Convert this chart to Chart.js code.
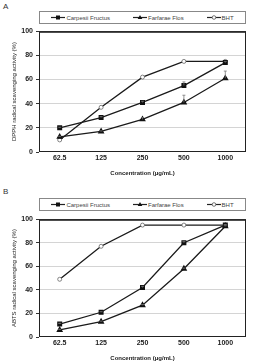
<!DOCTYPE html>
<html>
<head>
<meta charset="utf-8">
<script src="https://cdn.jsdelivr.net/npm/chart.js@4.4.1/dist/chart.umd.min.js"></script>
<style>
  body { margin: 0; background: #fff; font-family: "Liberation Sans", Arial, sans-serif; }
  #wrap { position: relative; width: 257px; height: 361px; overflow: hidden; }
  .panel { position: absolute; left: 3px; font-size: 8px; color: #333; }
  .legend { position: absolute; left: 39px; width: 205px; height: 11px; border: 1px solid #888;
    display: flex; justify-content: space-around; align-items: center; font-size: 6px; color: #444; }
  .legend span { display: flex; align-items: center; }
  .legend svg { margin-right: 1px; }
  canvas { position: absolute; left: 0; }
</style>
</head>
<body>
<div id="wrap">
  <div class="panel" style="top:2px">A</div>
  <div class="legend" id="legA" style="top:11px"></div>
  <canvas id="chartA" width="257" height="156" style="top:24px"></canvas>
  <div class="panel" style="top:187px">B</div>
  <div class="legend" id="legB" style="top:198px"></div>
  <canvas id="chartB" width="257" height="153" style="top:212px"></canvas>
</div>
<script>
// ---------- Data ----------
const CONCENTRATIONS = ['62.5', '125', '250', '500', '1000'];
const SERIES_NAMES = ['Carpesii Fructus', 'Farfarae Flos', 'BHT'];
const Y_TICKS = [0, 20, 40, 60, 80, 100];

// DPPH (panel A)
const DPPH_CARPESII = [20, 28.5, 41, 55, 74];
const DPPH_FARFARAE = [12.5, 17, 27, 41, 61];
const DPPH_BHT = [10, 37, 62, 75, 75];
const DPPH_CARPESII_ERR = [0.5, 0.8, 1, 3, 1];
const DPPH_FARFARAE_ERR = [0.5, 0.5, 1.5, 6, 6];
const DPPH_BHT_ERR = [0, 0, 0, 0, 0];

// ABTS (panel B)
const ABTS_CARPESII = [11, 21, 42, 80, 95];
const ABTS_FARFARAE = [6, 13, 27, 58, 94];
const ABTS_BHT = [49, 77, 95, 95, 95];
const ABTS_CARPESII_ERR = [0.5, 0.5, 1, 1, 0.5];
const ABTS_FARFARAE_ERR = [0.5, 0.5, 0.5, 0.5, 0.5];
const ABTS_BHT_ERR = [0, 0, 0, 0, 0];

const FONT = '"Liberation Sans", Arial, sans-serif';
const LINE = '#1a1a1a';

// ---------- Legend (html) ----------
function iconSvg(kind) {
    let mark = '';
    if (kind === 0) mark = '<rect x="5" y="1.5" width="4" height="4" fill="#111"/>';
    if (kind === 1) mark = '<polygon points="7,1 9.3,5 4.7,5" fill="#111"/>';
    if (kind === 2) mark = '<circle cx="7" cy="3.5" r="1.8" fill="#fff" stroke="#555" stroke-width="0.8"/>';
    return `<svg width="14" height="7"><line x1="0" y1="3.5" x2="14" y2="3.5" stroke="#222" stroke-width="1.2"/>${mark}</svg>`;
}
function buildLegend(id) {
    const el = document.getElementById(id);
    SERIES_NAMES.forEach((n, i) => {
        const s = document.createElement('span');
        s.innerHTML = iconSvg(i) + n;
        el.appendChild(s);
    });
}
buildLegend('legA');
buildLegend('legB');

// ---------- Plugins ----------
const boxPlugin = {
    id: 'box',
    afterDraw(chart) {
        const { ctx, chartArea: a } = chart;
        ctx.save();
        ctx.strokeStyle = '#222';
        ctx.lineWidth = 1;
        ctx.strokeRect(a.left + 0.5, a.top + 0.5, a.right - a.left - 1, a.bottom - a.top - 1);
        ctx.lineWidth = 1.5;
        ctx.beginPath();
        ctx.moveTo(a.left, a.top + 0.75);
        ctx.lineTo(a.right, a.top + 0.75);
        ctx.stroke();
        ctx.restore();
    }
};

const errorBarPlugin = {
    id: 'errBars',
    afterDatasetsDraw(chart) {
        const { ctx } = chart;
        const y = chart.scales.y;
        ctx.save();
        ctx.strokeStyle = '#777';
        ctx.lineWidth = 0.8;
        chart.data.datasets.forEach((ds, di) => {
            const meta = chart.getDatasetMeta(di);
            (ds.errors || []).forEach((e, i) => {
                if (!e) return;
                const pt = meta.data[i];
                const top = y.getPixelForValue(ds.data[i] + e);
                ctx.beginPath();
                ctx.moveTo(pt.x, pt.y);
                ctx.lineTo(pt.x, top);
                ctx.moveTo(pt.x - 1.5, top);
                ctx.lineTo(pt.x + 1.5, top);
                ctx.stroke();
            });
        });
        ctx.restore();
    }
};

// ---------- Chart builder ----------
function makeChart(id, yTitle, series, errors) {
    const styles = [
        { pointStyle: 'rect', pointRadius: 2.6, pointBackgroundColor: '#111', pointBorderColor: '#111' },
        { pointStyle: 'triangle', pointRadius: 2.6, pointBackgroundColor: '#111', pointBorderColor: '#111' },
        { pointStyle: 'circle', pointRadius: 2, pointBackgroundColor: '#fff', pointBorderColor: '#666', pointBorderWidth: 0.8 }
    ];
    const datasets = series.map((d, i) => Object.assign({
        label: SERIES_NAMES[i], data: d, errors: errors[i],
        borderColor: LINE, borderWidth: 1.3, tension: 0
    }, styles[i]));
    return new Chart(document.getElementById(id), {
        type: 'line',
        data: { labels: CONCENTRATIONS, datasets },
        options: {
            responsive: false, animation: false, devicePixelRatio: 1,
            layout: { padding: { left: 0, right: 11, top: 4, bottom: 0 } },
            plugins: { legend: { display: false }, tooltip: { enabled: false } },
            scales: {
                x: {
                    offset: true,
                    grid: { display: false, drawTicks: false, tickLength: 0 },
                    border: { display: false },
                    ticks: { color: '#222', font: { family: FONT, size: 7, weight: 'bold' }, padding: 2, maxRotation: 0 },
                    title: { display: true, text: 'Concentration (μg/mL)', color: '#222',
                        font: { family: FONT, size: 6, weight: 'bold' }, padding: { top: 4, bottom: 3 } },
                    afterFit: s => { s.height = 28; }
                },
                y: {
                    min: 0, max: 100,
                    afterBuildTicks: s => { s.ticks = Y_TICKS.map(v => ({ value: v })); },
                    grid: {
                        color: c => (c.tick && c.tick.value > 0 && c.tick.value < 100) ? '#d4d4d4' : 'rgba(0,0,0,0)',
                        tickColor: '#333', tickLength: 3, lineWidth: 1
                    },
                    border: { display: false },
                    ticks: { color: '#222', font: { family: FONT, size: 7, weight: 'bold' }, padding: 3 },
                    title: { display: true, text: yTitle, color: '#222',
                        font: { family: FONT, size: 6 }, padding: { top: 11, bottom: 0 } },
                    afterFit: s => { s.width = 39; }
                }
            }
        },
        plugins: [boxPlugin, errorBarPlugin]
    });
}

makeChart('chartA', 'DPPH radical scavenging activity (%)',
    [DPPH_CARPESII, DPPH_FARFARAE, DPPH_BHT],
    [DPPH_CARPESII_ERR, DPPH_FARFARAE_ERR, DPPH_BHT_ERR]);
makeChart('chartB', 'ABTS radical scavenging activity (%)',
    [ABTS_CARPESII, ABTS_FARFARAE, ABTS_BHT],
    [ABTS_CARPESII_ERR, ABTS_FARFARAE_ERR, ABTS_BHT_ERR]);
</script>
</body>
</html>
